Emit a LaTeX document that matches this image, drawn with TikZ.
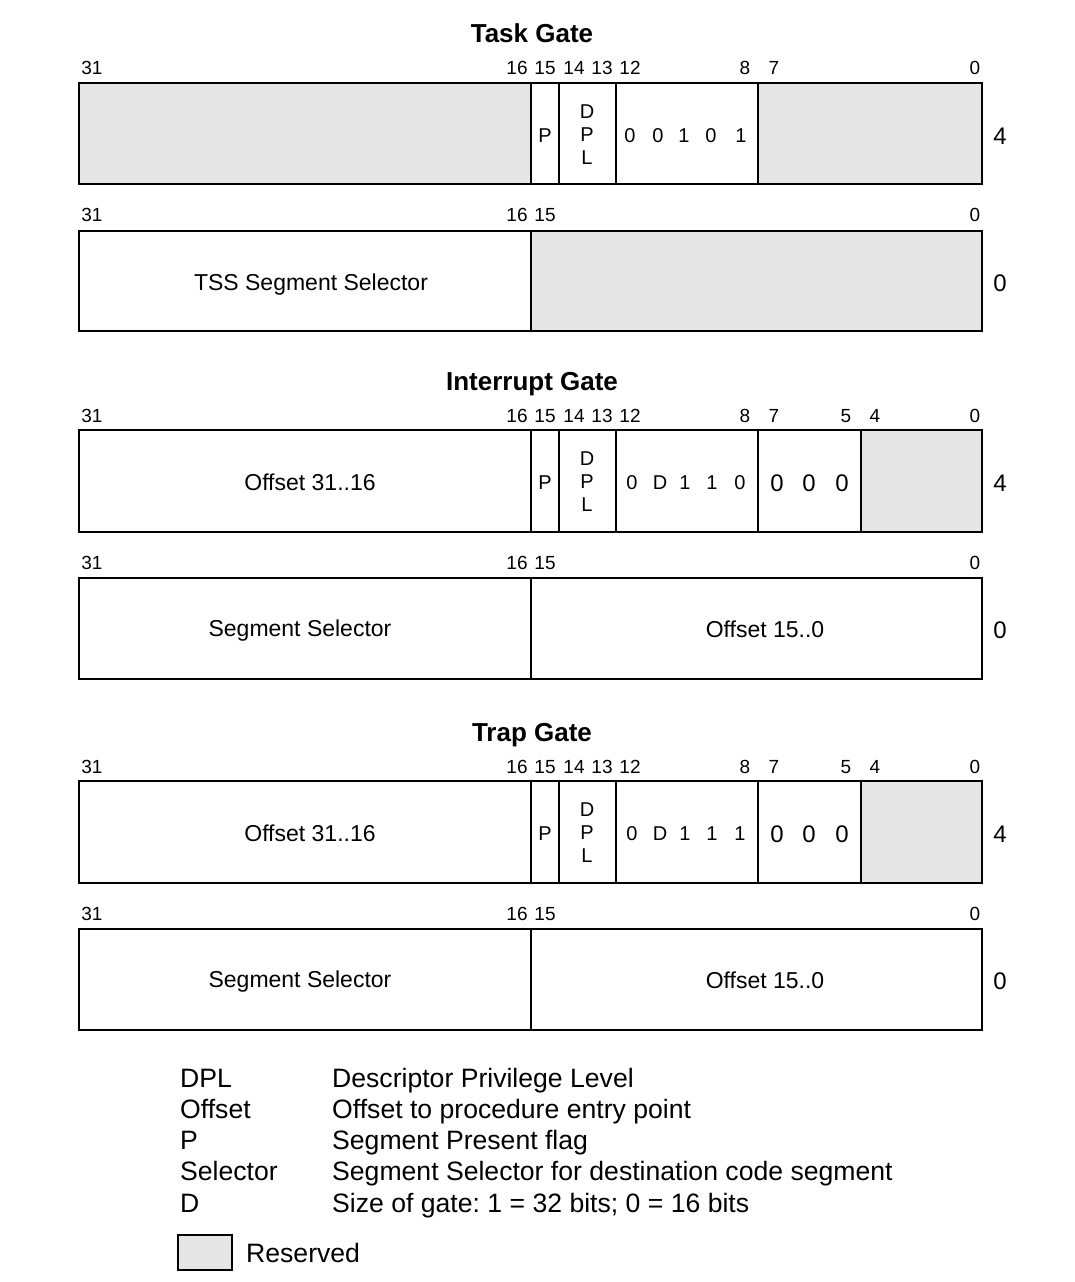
\documentclass[tikz,border=0pt]{standalone}
\usepackage{fontspec}
\setmainfont{Liberation Sans}
\usepackage{xcolor}
\usetikzlibrary{positioning}

\definecolor{rsvgray}{RGB}{230,230,230}

\tikzset{
  field/.style={draw, line width=1.8pt},
  rsvfield/.style={field, fill=rsvgray},
  gatetitle/.style={font=\fontsize{26}{26}\selectfont\bfseries, anchor=base, inner sep=0pt},
  bitno/.style={font=\fontsize{19}{19}\selectfont, anchor=base, inner sep=0pt},
  fbit/.style={font=\fontsize{20}{20}\selectfont, anchor=base, inner sep=0pt},
  dplbit/.style={font=\fontsize{20}{23}\selectfont, align=center, inner sep=0pt},
  bigbit/.style={font=\fontsize{24}{24}\selectfont, anchor=base, inner sep=0pt},
  ftext/.style={font=\fontsize{23}{23}\selectfont, anchor=base, inner sep=0pt},
  rowno/.style={font=\fontsize{24}{24}\selectfont, anchor=base, inner sep=0pt},
  legtext/.style={font=\fontsize{26.6}{26.6}\selectfont, anchor=base west, inner sep=0pt}
}

\begin{document}
\frenchspacing
\begin{tikzpicture}[x=1pt, y=-1pt]
  \useasboundingbox (0,0) rectangle (1074,1282);

  % Task Gate
  \node[gatetitle] (task-title) at (532,42) {Task Gate};
  \foreach \b/\x in {31/92, 16/517, 15/545, 14/574, 13/602, 12/630, 8/745, 7/774, 0/975}
    \node[bitno] (task-hb\b) at (\x,74) {\b};
  \draw[rsvfield] (79,83) rectangle (531,184);
  \draw[field] (531,83) rectangle (559,184);
  \draw[field] (559,83) rectangle (616,184);
  \draw[field] (616,83) rectangle (758,184);
  \draw[rsvfield] (758,83) rectangle (982,184);
  \node[fbit] (task-p) at (545,142) {P};
  \node[dplbit] (task-dpl) at (587,135) {D\\P\\L};
  \foreach \v/\x [count=\i] in {0/630, 0/658, 1/684, 0/711, 1/741}
    \node[fbit] (task-t\i) at (\x,142) {\v};
  \node[rowno] (task-w4) at (1000,144) {4};

  \foreach \b/\x in {31/92, 16/517, 15/545, 0/975}
    \node[bitno] (task-lb\b) at (\x,221) {\b};
  \draw[field] (79,231) rectangle (531,331);
  \draw[rsvfield] (531,231) rectangle (982,331);
  \node[ftext] (task-sel) at (311,290) {TSS Segment Selector};
  \node[rowno] (task-w0) at (1000,291) {0};

  % Interrupt Gate and Trap Gate
  \foreach \g/\T/\gtitle/\tlast in {int/430/Interrupt Gate/0, trap/781/Trap Gate/1} {
    \node[gatetitle] (\g-title) at (532,{\T-40}) {\gtitle};
    \foreach \b/\x in {31/92, 16/517, 15/545, 14/574, 13/602, 12/630, 8/745, 7/774, 5/846, 4/875, 0/975}
      \node[bitno] (\g-hb\b) at (\x,{\T-8}) {\b};
    \draw[field] (79,\T) rectangle (531,{\T+102});
    \draw[field] (531,\T) rectangle (559,{\T+102});
    \draw[field] (559,\T) rectangle (616,{\T+102});
    \draw[field] (616,\T) rectangle (758,{\T+102});
    \draw[field] (758,\T) rectangle (861,{\T+102});
    \draw[rsvfield] (861,\T) rectangle (982,{\T+102});
    \node[ftext] (\g-offhi) at (310,{\T+60}) {Offset 31..16};
    \node[fbit] (\g-p) at (545,{\T+59}) {P};
    \node[dplbit] (\g-dpl) at (587,{\T+52}) {D\\P\\L};
    \foreach \v/\x [count=\i] in {0/632, D/660, 1/685, 1/712, \tlast/740}
      \node[fbit] (\g-t\i) at (\x,{\T+59}) {\v};
    \foreach \x [count=\i] in {777, 809, 842}
      \node[bigbit] (\g-z\i) at (\x,{\T+61}) {0};
    \node[rowno] (\g-w4) at (1000,{\T+61}) {4};

    \foreach \b/\x in {31/92, 16/517, 15/545, 0/975}
      \node[bitno] (\g-lb\b) at (\x,{\T+139}) {\b};
    \draw[field] (79,{\T+148}) rectangle (531,{\T+249});
    \draw[field] (531,{\T+148}) rectangle (982,{\T+249});
    \node[ftext] (\g-sel) at (300,{\T+206}) {Segment Selector};
    \node[ftext] (\g-offlo) at (765,{\T+207}) {Offset 15..0};
    \node[rowno] (\g-w0) at (1000,{\T+208}) {0};
  }

  % Legend
  \foreach \k/\d [count=\i] in {DPL/Descriptor Privilege Level,
      Offset/Offset to procedure entry point,
      P/Segment Present flag,
      Selector/Segment Selector for destination code segment,
      D/Size of gate: 1 = 32 bits; 0 = 16 bits} {
    \node[legtext] (leg-k\i) at (180,{1078+31.3*(\i-1)+9}) {\k};
    \node[legtext] (leg-d\i) at (332,{1078+31.3*(\i-1)+9}) {\d};
  }
  \draw[line width=1.5pt, fill=rsvgray] (178,1235) rectangle (232,1270);
  \node[legtext] (leg-rsv) at (246,1262) {Reserved};
\end{tikzpicture}
\end{document}
